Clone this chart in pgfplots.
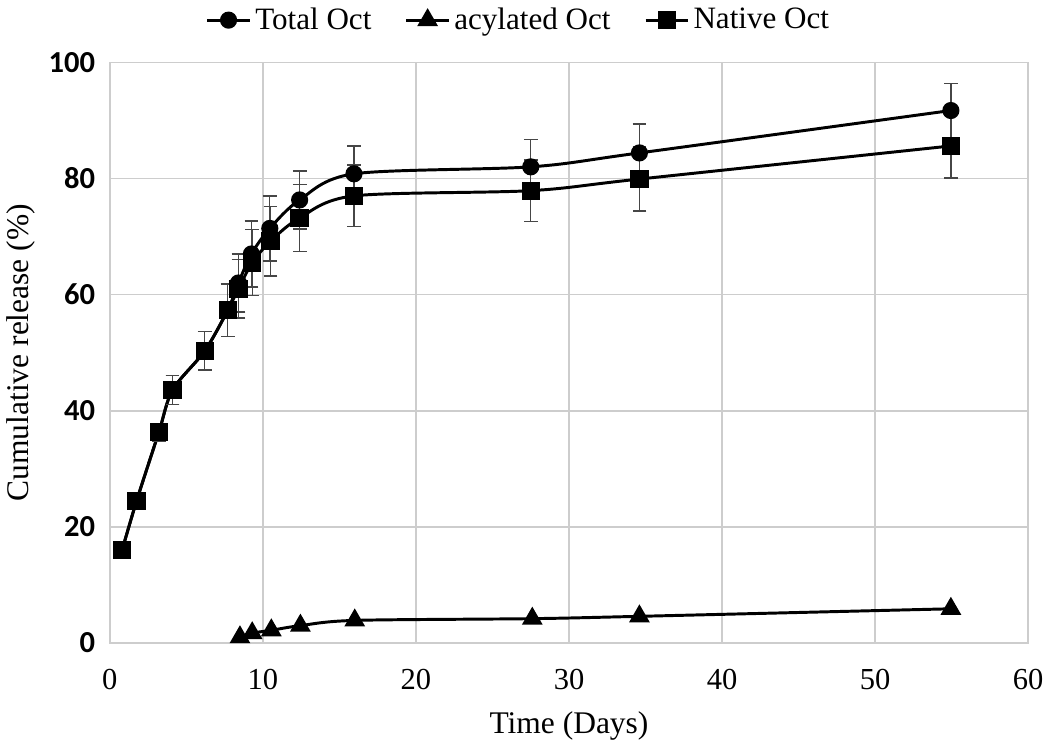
\documentclass[border=0pt]{standalone}
\usepackage{pgfplots}
\pgfplotsset{compat=1.18}
\usepackage{fontspec}
\setmainfont{Liberation Serif}
\newfontfamily\carlito{Carlito}
\definecolor{gridgray}{RGB}{205,205,205}
\definecolor{errgray}{RGB}{70,70,70}

\begin{document}
\begin{tikzpicture}
\begin{axis}[
    scale only axis,
    width=466.5pt,
    height=295pt,
    xmin=0, xmax=60,
    ymin=0, ymax=100,
    xtick={0,10,...,60},
    ytick={0,20,...,100},
    grid=major,
    grid style={gridgray, line width=0.8pt},
    axis line style={gridgray, line width=0.8pt},
    major tick length=0pt,
    /pgf/number format/assume math mode=true,
    xticklabel style={font=\fontsize{15.5}{18}\selectfont, yshift=-10pt},
    yticklabel style={font=\carlito\bfseries\fontsize{15.5}{18}\selectfont, xshift=-4pt},
    xlabel={Time (Days)},
    ylabel={Cumulative  release (\%)},
    label style={font=\fontsize{16}{19}\selectfont},
    xlabel style={yshift=-4pt},
    ylabel style={yshift=0pt},
    legend columns=3,
    legend style={draw=none, fill=none, at={(0.446,1.0)}, anchor=south,
        yshift=11pt, font=\fontsize{15.8}{19}\selectfont,
        /tikz/every even column/.append style={column sep=15pt}},
    legend image code/.code={
        \draw[#1, mark repeat=2, mark phase=2] plot coordinates {(0cm,0cm) (0.38cm,0cm) (0.76cm,0cm)};
    },
    error bars/error bar style={errgray, line width=0.7pt},
    error bars/error mark options={rotate=90, errgray, mark size=3.5pt, line width=0.7pt},
]
% Total Oct
\addplot[black, line width=1.5pt, smooth, mark=*, mark size=3.6pt,
    mark options={solid, fill=black},
    error bars/.cd, y dir=both, y explicit] coordinates {
    (0.8,16.0) +- (0,0.8)
    (1.75,24.5) +- (0,1.0)
    (3.2,36.3) +- (0,1.5)
    (4.1,43.6) +- (0,2.5)
    (6.2,50.3) +- (0,3.3)
    (7.7,57.3) +- (0,4.5)
    (8.4,62.0) +- (0,5.0)
    (9.25,67.0) +- (0,5.7)
    (10.45,71.4) +- (0,5.6)
    (12.4,76.3) +- (0,5.0)
    (15.95,80.8) +- (0,4.8)
    (27.5,82.0) +- (0,4.7)
    (34.6,84.4) +- (0,5.0)
    (54.95,91.7) +- (0,4.7)
};
\addlegendentry{Total Oct}
% acylated Oct
\addplot[black, line width=1.5pt, smooth, mark=triangle*, mark size=4.6pt,
    mark options={solid, fill=black}] coordinates {
    (8.5,1.0)
    (9.3,1.7)
    (10.55,2.2)
    (12.45,3.0)
    (16.0,3.9)
    (27.6,4.2)
    (34.6,4.6)
    (54.95,5.9)
};
\addlegendentry{acylated Oct}
% Native Oct
\addplot[black, line width=1.5pt, smooth, mark=square*, mark size=3.9pt,
    mark options={solid, fill=black},
    error bars/.cd, y dir=both, y explicit] coordinates {
    (0.8,16.0) +- (0,0.8)
    (1.75,24.5) +- (0,1.0)
    (3.2,36.3) +- (0,1.5)
    (4.1,43.6) +- (0,2.5)
    (6.2,50.3) +- (0,3.4)
    (7.7,57.3) +- (0,4.5)
    (8.4,61.0) +- (0,5.0)
    (9.3,65.5) +- (0,5.7)
    (10.5,69.2) +- (0,6.0)
    (12.4,73.2) +- (0,5.8)
    (15.95,77.0) +- (0,5.3)
    (27.5,77.9) +- (0,5.3)
    (34.6,79.9) +- (0,5.5)
    (54.95,85.6) +- (0,5.5)
};
\addlegendentry{Native Oct}
\end{axis}
\end{tikzpicture}
\end{document}
